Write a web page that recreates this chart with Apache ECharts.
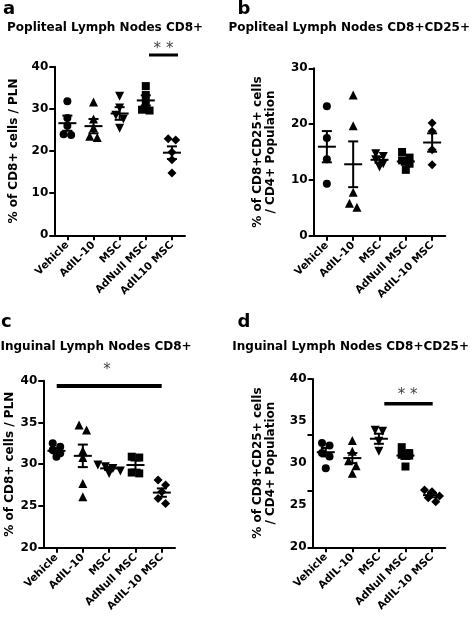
<!DOCTYPE html>
<html><head><meta charset="utf-8">
<script src="https://cdn.jsdelivr.net/npm/echarts@6/dist/echarts.min.js"></script>
<style>html,body{margin:0;padding:0;background:#fff}#c{width:472px;height:617px}</style>
</head><body><div id="c"></div>
<script>
// ---------- data ----------
const catsA = ['Vehicle', 'AdIL-10', 'MSC', 'AdNull MSC', 'AdIL10 MSC'];
const catsBCD = ['Vehicle', 'AdIL-10', 'MSC', 'AdNull MSC', 'AdIL-10 MSC'];

// a: Popliteal Lymph Nodes CD8+
const popCD8Points = [
  [31.8, 27.8, 26.0, 24.0, 23.8],
  [31.6, 27.6, 25.5, 23.5, 23.2],
  [33.0, 30.2, 28.5, 27.6, 25.4],
  [35.4, 33.3, 31.4, 29.8, 29.6],
  [22.6, 22.9, 19.7, 17.9, 14.8]
];
const popCD8Mean = [26.6, 25.9, 28.9, 32.0, 19.6];
const popCD8Sem = [1.8, 1.7, 1.5, 1.2, 1.5];
const popCD8Ticks = [0, 40, 10];

// b: Popliteal Lymph Nodes CD8+CD25+
const popCD25Points = [
  [23.2, 17.5, 13.7, 9.3],
  [25.2, 19.7, 7.8, 5.8, 5.1],
  [14.7, 14.2, 13.6, 12.9, 12.3],
  [15.0, 14.0, 13.5, 12.9, 11.8],
  [20.2, 18.7, 15.4, 12.7]
];
const popCD25Mean = [15.95, 12.8, 13.6, 13.3, 16.7];
const popCD25Sem = [2.8, 4.1, 0.5, 0.6, 1.65];
const popCD25Ticks = [0, 30, 10];

// c: Inguinal Lymph Nodes CD8+
const ingCD8Points = [
  [32.5, 32.1, 31.7, 31.3, 30.9],
  [34.7, 34.1, 31.6, 30.8, 27.7, 26.1],
  [29.9, 29.7, 29.5, 29.2, 28.9],
  [30.9, 30.8, 29.0, 28.9],
  [28.1, 27.5, 26.7, 25.9, 25.3]
];
const ingCD8Mean = [31.6, 31.0, 29.5, 29.9, 26.6];
const ingCD8Sem = [0.3, 1.35, 0.2, 0.55, 0.5];
const ingCD8Ticks = [20, 40, 5];

// d: Inguinal Lymph Nodes CD8+CD25+
const ingCD25Points = [
  [32.4, 32.1, 31.2, 30.8, 29.4],
  [32.7, 31.4, 30.3, 29.7, 28.8],
  [33.9, 33.8, 32.6, 31.4],
  [31.9, 31.2, 31.0, 30.9, 29.6],
  [26.8, 26.6, 26.1, 25.9, 25.4]
];
const ingCD25Mean = [31.3, 30.6, 32.9, 30.9, 26.2];
const ingCD25Sem = [0.5, 0.6, 0.6, 0.4, 0.25];
const ingCD25Ticks = [20, 40, 5];

const panelTitles = ['Popliteal Lymph Nodes CD8+', 'Popliteal Lymph Nodes CD8+CD25+',
  'Inguinal Lymph Nodes CD8+', 'Inguinal Lymph Nodes CD8+CD25+'];
const yNames = ['% of CD8+ cells / PLN', '% of CD8+CD25+ cells\n/ CD4+ Population',
  '% of CD8+ cells / PLN', '% of CD8+CD25+ cells\n/ CD4+ Population'];

// ---------- styling ----------
const FONT = '"DejaVu Sans", "Liberation Sans", sans-serif';
const grids = [
  { left: 54.3, top: 66.7, width: 130.7, height: 168.6 },
  { left: 313.7, top: 68.3, width: 131.6, height: 167.4 },
  { left: 43.3, top: 380.7, width: 131.7, height: 167 },
  { left: 312.5, top: 379, width: 132.8, height: 168.3 }
];
const nameGaps = [34, 36, 21, 35];
const symbols = ['circle', 'triangle', 'triangle', 'rect', 'diamond'];
const symRot = [0, 0, 180, 0, 0];
const symSize = [8, 9, 9, 8, 9];

// deterministic horizontal spreading: points at (nearly) the same level share a row
function swarm(values, pxPerUnit) {
  const STEP = 7.5, R = 6;
  const order = values.map((v, i) => i).sort((a, b) => values[b] - values[a]);
  const off = values.map(() => 0);
  let row = [];
  const flush = () => {
    row.forEach((idx, j) => { off[idx] = (j - (row.length - 1) / 2) * STEP; });
    row = [];
  };
  for (const i of order) {
    if (row.length && (values[row[0]] - values[i]) * pxPerUnit > R) flush();
    row.push(i);
  }
  flush();
  return off;
}

const panels = [
  { cats: catsA, pts: popCD8Points, mean: popCD8Mean, sem: popCD8Sem, ticks: popCD8Ticks },
  { cats: catsBCD, pts: popCD25Points, mean: popCD25Mean, sem: popCD25Sem, ticks: popCD25Ticks },
  { cats: catsBCD, pts: ingCD8Points, mean: ingCD8Mean, sem: ingCD8Sem, ticks: ingCD8Ticks },
  { cats: catsBCD, pts: ingCD25Points, mean: ingCD25Mean, sem: ingCD25Sem, ticks: ingCD25Ticks }
];

const option = { backgroundColor: '#fff', animation: false, grid: [], xAxis: [], yAxis: [], series: [], graphic: [] };
const black = '#000';

panels.forEach((p, i) => {
  option.grid.push(Object.assign({ containLabel: false }, grids[i]));
  option.xAxis.push({
    type: 'category', gridIndex: i, data: p.cats, boundaryGap: true,
    axisLine: { show: true, onZero: false, lineStyle: { color: black, width: 2 } },
    axisTick: { show: true, alignWithLabel: true, length: 5, lineStyle: { color: black, width: 2 } },
    axisLabel: { rotate: 45, margin: 8, interval: 0, color: black, fontFamily: FONT, fontWeight: 'bold', fontSize: 10.5 },
    splitLine: { show: false }
  });
  const yIdx = option.yAxis.length;
  option.yAxis.push({
    type: 'value', gridIndex: i, position: 'left', min: p.ticks[0], max: p.ticks[1], interval: p.ticks[2],
    axisLine: { show: true, lineStyle: { color: black, width: 2 } },
    axisTick: { show: i !== 3, length: 5, lineStyle: { color: black, width: 2 } },
    axisLabel: { margin: 6, color: black, fontFamily: FONT, fontWeight: 'bold', fontSize: 12 },
    splitLine: { show: false },
    name: yNames[i], nameLocation: 'middle', nameGap: nameGaps[i], nameRotate: 90,
    nameTextStyle: { color: black, fontFamily: FONT, fontWeight: 'bold', fontSize: 12, lineHeight: 13 }
  });
  if (i === 3) {
    // tick marks as drawn in the original panel d
    option.yAxis.push({
      type: 'value', gridIndex: 3, position: 'left', min: 0, max: 3, interval: 1,
      axisLine: { show: false }, axisLabel: { show: false }, splitLine: { show: false },
      axisTick: { show: true, length: 5, lineStyle: { color: black, width: 2 } }
    });
  }
  const pxPerUnit = grids[i].height / (p.ticks[1] - p.ticks[0]);
  const data = [];
  p.pts.forEach((grp, g) => {
    const offs = swarm(grp, pxPerUnit);
    grp.forEach((v, k) => data.push({
      value: [g, v], symbol: symbols[g], symbolRotate: symRot[g], symbolSize: symSize[g], symbolOffset: [offs[k], 0]
    }));
  });
  option.series.push({
    type: 'scatter', xAxisIndex: i, yAxisIndex: yIdx, data,
    itemStyle: { color: black, opacity: 1 }, silent: true
  });
  option.series.push({
    type: 'custom', xAxisIndex: i, yAxisIndex: yIdx,
    data: p.mean.map((m, g) => [g, m, p.sem[g]]),
    encode: { x: 0, y: 1 },
    renderItem: function (params, api) {
      const g = api.value(0), m = api.value(1), s = api.value(2);
      const c = api.coord([g, m]);
      const t = api.coord([g, m + s]);
      const b = api.coord([g, m - s]);
      const st = { stroke: black, lineWidth: 2 };
      return { type: 'group', children: [
        { type: 'line', shape: { x1: c[0] - 9, y1: c[1], x2: c[0] + 9, y2: c[1] }, style: st },
        { type: 'line', shape: { x1: c[0], y1: t[1], x2: c[0], y2: b[1] }, style: st },
        { type: 'line', shape: { x1: c[0] - 5, y1: t[1], x2: c[0] + 5, y2: t[1] }, style: st },
        { type: 'line', shape: { x1: c[0] - 5, y1: b[1], x2: c[0] + 5, y2: b[1] }, style: st }
      ] };
    }
  });
});

// titles and panel letters
const titleFont = 'bold 12px ' + FONT;
const letterFont = 'bold 18px ' + FONT;
option.graphic.push(
  { type: 'text', x: 3, y: 9, style: { text: 'a', font: letterFont, fill: black, textAlign: 'left', textVerticalAlign: 'middle' } },
  { type: 'text', x: 237.5, y: 9, style: { text: 'b', font: letterFont, fill: black, textAlign: 'left', textVerticalAlign: 'middle' } },
  { type: 'text', x: 1, y: 322, style: { text: 'c', font: letterFont, fill: black, textAlign: 'left', textVerticalAlign: 'middle' } },
  { type: 'text', x: 237.5, y: 322, style: { text: 'd', font: letterFont, fill: black, textAlign: 'left', textVerticalAlign: 'middle' } },
  { type: 'text', x: 7, y: 28, style: { text: panelTitles[0], font: titleFont, fill: black, textAlign: 'left', textVerticalAlign: 'middle' } },
  { type: 'text', x: 470, y: 27.5, style: { text: panelTitles[1], font: titleFont, fill: black, textAlign: 'right', textVerticalAlign: 'middle' } },
  { type: 'text', x: 0.5, y: 346.5, style: { text: panelTitles[2], font: titleFont, fill: black, textAlign: 'left', textVerticalAlign: 'middle' } },
  { type: 'text', x: 469, y: 347, style: { text: panelTitles[3], font: titleFont, fill: black, textAlign: 'right', textVerticalAlign: 'middle' } },
  // significance annotations
  { type: 'line', shape: { x1: 149, y1: 55, x2: 178, y2: 55 }, style: { stroke: black, lineWidth: 3 } },
  { type: 'text', x: 163.5, y: 49, style: { text: '* *', font: '15px ' + FONT, fill: '#444', textAlign: 'center', textVerticalAlign: 'middle' } },
  { type: 'line', shape: { x1: 56.7, y1: 386, x2: 161.7, y2: 386 }, style: { stroke: black, lineWidth: 4 } },
  { type: 'text', x: 107, y: 370, style: { text: '*', font: '15px ' + FONT, fill: '#444', textAlign: 'center', textVerticalAlign: 'middle' } },
  { type: 'line', shape: { x1: 384.3, y1: 403.7, x2: 432.7, y2: 403.7 }, style: { stroke: black, lineWidth: 3.5 } },
  { type: 'text', x: 407.7, y: 395, style: { text: '* *', font: '15px ' + FONT, fill: '#444', textAlign: 'center', textVerticalAlign: 'middle' } }
);

const chart = echarts.init(document.getElementById('c'), null, { renderer: 'canvas' });
chart.setOption(option);
</script></body></html>
